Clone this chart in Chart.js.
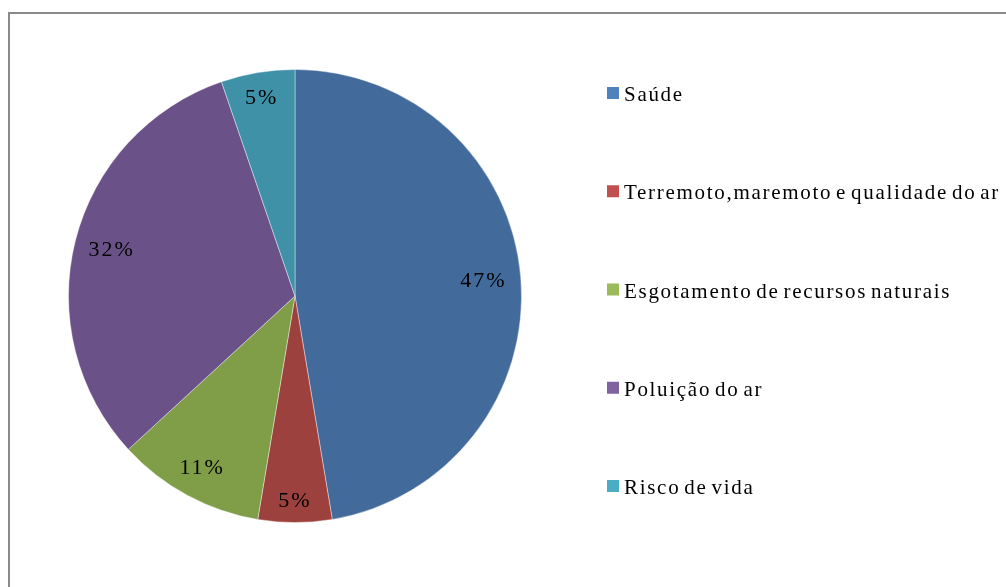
<!DOCTYPE html>
<html>
<head>
<meta charset="utf-8">
<script src="https://cdn.jsdelivr.net/npm/chart.js@4"></script>
<style>
  body { margin: 0; background: #fff; overflow: hidden; }
  #frame { position: absolute; left: 8px; top: 12px; width: 1100px; height: 700px; border: 2px solid #8a8a8a; }
  #wrap { position: absolute; left: 0; top: 0; width: 1006px; height: 587px; }
</style>
</head>
<body>
<div id="frame"></div>
<div id="wrap"><canvas id="pieChart" width="1006" height="587"></canvas></div>
<script>
const categories = ['Saúde', 'Terremoto,maremoto e qualidade do ar', 'Esgotamento de recursos naturais', 'Poluição do ar', 'Risco de vida'];
const counts = [9, 1, 2, 6, 1];
const sliceColors = ['#426a9b', '#9c413d', '#809d48', '#6a5289', '#3e91a7'];
const legendColors = ['#4f81bd', '#c0504d', '#9bbb59', '#8064a2', '#4bacc6'];

const total = counts.reduce((a, b) => a + b, 0);

// percentage labels inside the slices, pushed out until the text box nearly touches the rim
const sliceLabels = {
    id: 'sliceLabels',
    afterDatasetsDraw(chart) {
        const ctx = chart.ctx;
        const meta = chart.getDatasetMeta(0);
        ctx.save();
        ctx.font = '22px "Liberation Serif"';
        ctx.letterSpacing = '2px';
        ctx.fillStyle = '#000';
        ctx.textAlign = 'center';
        ctx.textBaseline = 'middle';
        meta.data.forEach((arc, i) => {
            const p = arc.getProps(['x', 'y', 'startAngle', 'endAngle', 'outerRadius'], true);
            const mid = (p.startAngle + p.endAngle) / 2;
            const pct = Math.round(counts[i] / total * 100) + '%';
            const hw = ctx.measureText(pct).width / 2;
            const hh = 8;
            const limit = p.outerRadius - 13;
            const dx = Math.cos(mid), dy = Math.sin(mid);
            let r = 0;
            while (r < limit) {
                const fx = Math.abs(dx * (r + 1)) + hw;
                const fy = Math.abs(dy * (r + 1)) + hh;
                if (Math.sqrt(fx * fx + fy * fy) > limit) break;
                r += 1;
            }
            ctx.fillText(pct, p.x + dx * r, p.y + dy * r + 1);
        });
        ctx.restore();
    }
};

// legend on the right, spaced like the original
const sideLegend = {
    id: 'sideLegend',
    afterDraw(chart) {
        const ctx = chart.ctx;
        ctx.save();
        ctx.font = '21px "Liberation Serif"';
        ctx.letterSpacing = '1.7px';
        ctx.wordSpacing = '-3px';
        ctx.textBaseline = 'alphabetic';
        categories.forEach((name, i) => {
            const cy = 93 + i * 98.25;
            ctx.fillStyle = legendColors[i];
            ctx.fillRect(607, cy - 6, 12, 12);
            ctx.fillStyle = '#000';
            ctx.fillText(name, 624, cy + 8);
        });
        ctx.restore();
    }
};

const ctx = document.getElementById('pieChart').getContext('2d');
const myChart = new Chart(ctx, {
    type: 'pie',
    data: {
        labels: categories,
        datasets: [{
            data: counts,
            backgroundColor: sliceColors,
            borderColor: 'rgba(255,255,255,0.4)',
            borderWidth: 1
        }]
    },
    options: {
        responsive: false,
        animation: false,
        layout: {
            padding: { top: 69, bottom: 64, left: 68, right: 484 }
        },
        plugins: {
            legend: { display: false },
            tooltip: { enabled: false }
        }
    },
    plugins: [sliceLabels, sideLegend]
});
</script>
</body>
</html>
